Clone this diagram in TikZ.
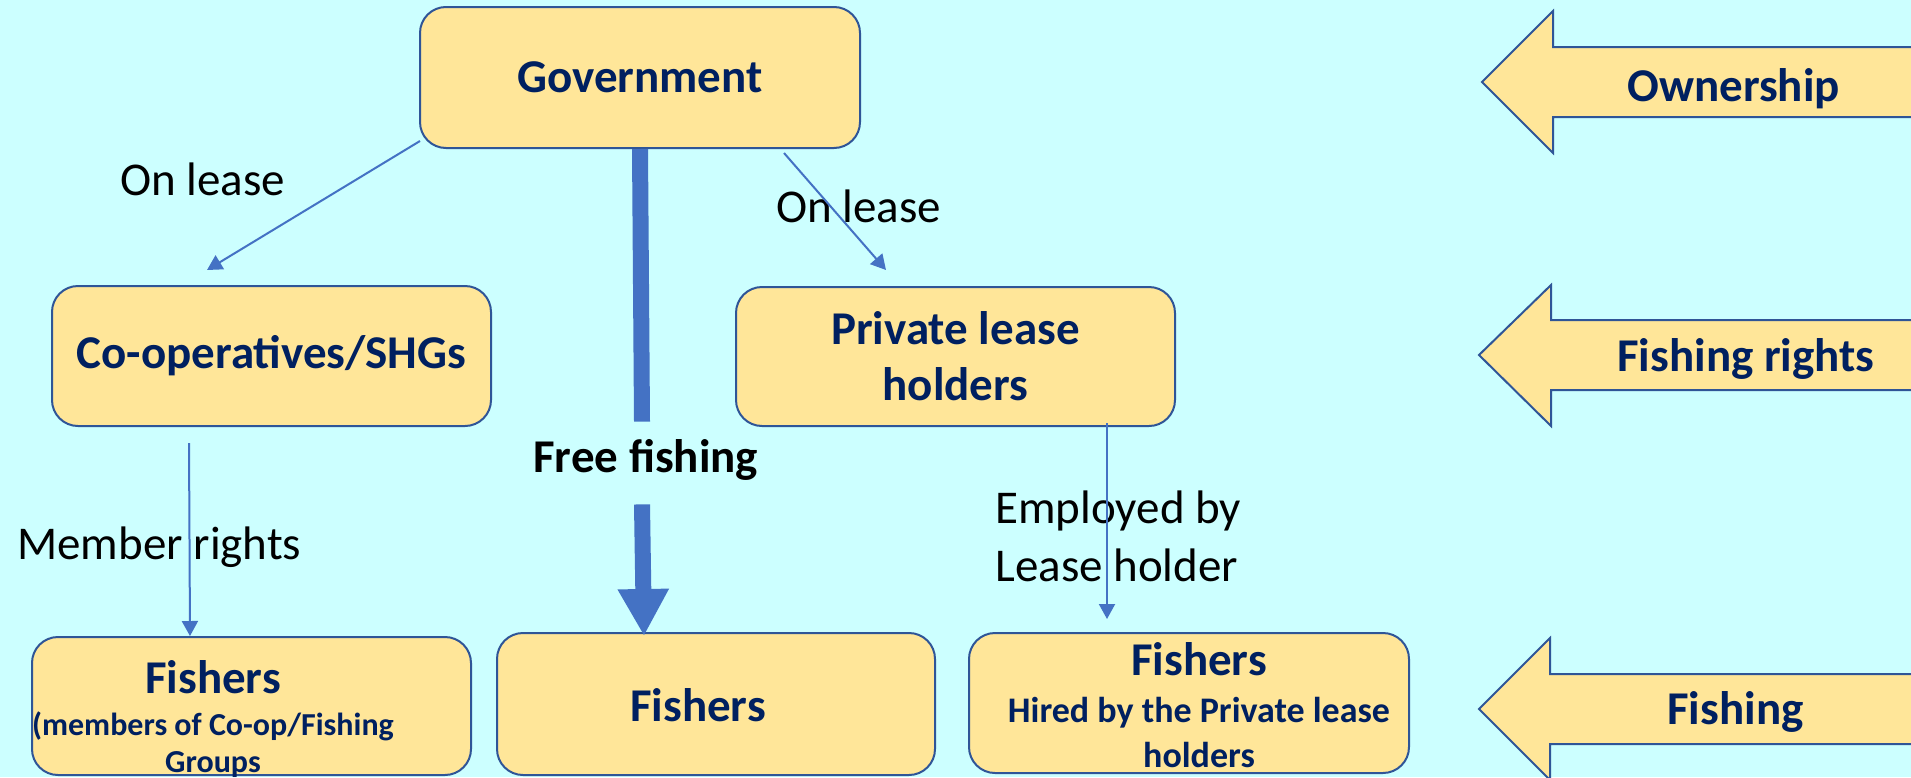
\documentclass[tikz,border=0pt]{standalone}
\usepackage{fontspec}
\setmainfont{Carlito}
\usetikzlibrary{arrows.meta}

\definecolor{bgcyan}{HTML}{CCFFFF}
\definecolor{boxfill}{HTML}{FFE699}
\definecolor{boxline}{HTML}{2F5597}
\definecolor{navy}{HTML}{002060}
\definecolor{flowblue}{HTML}{4472C4}

\tikzset{
  box/.style={draw=boxline, fill=boxfill, line width=1pt, rounded corners=13pt,
    text=navy, font=\bfseries\fontsize{23.5}{28}\selectfont, align=center, inner sep=0pt},
  boxtext/.style={text=navy, font=\bfseries\fontsize{23.5}{28}\selectfont, align=center, inner sep=0pt},
  lbl/.style={text=black, font=\fontsize{23.5}{29}\selectfont, align=left, inner sep=0pt},
  thin/.style={draw=flowblue, line width=1pt, -{Triangle[length=7.5pt,width=8pt]}},
  thickline/.style={draw=flowblue, line width=8pt},
  blockarrow/.style={draw=boxline, fill=boxfill, line width=1pt},
}

\begin{document}
\begin{tikzpicture}[x=0.5pt, y=-0.5pt]
  \useasboundingbox (0,0) rectangle (1911,777);
  \fill[bgcyan] (0,0) rectangle (1911,777);
  \clip (0,0) rectangle (1911,777);

  % boxes
  \node[box, minimum width=220pt, minimum height=70.5pt] (gov) at (640,77.5) {Government};
  \node[box, minimum width=219.5pt, minimum height=70pt] (coop) at (271.5,356) {Co-operatives/SHGs};
  \node[box, minimum width=219.5pt, minimum height=69.5pt] (priv) at (955.5,356.5) {Private lease\\holders};
  \node[box, minimum width=219.5pt, minimum height=69pt] (fishL) at (251.5,706) {};
  \node[box, minimum width=219pt, minimum height=71pt] (fishM) at (716,704) {};
  \node[box, minimum width=220pt, minimum height=70pt] (fishR) at (1189,703) {};

  % texts of the bottom boxes (anchored on the baseline of their last line)
  \node[boxtext, font=\bfseries\fontsize{23.5}{21}\selectfont, anchor=base] (fishLt) at (213,772)
    {Fishers\\{\fontsize{16}{16}\selectfont (members of Co-op/Fishing}\\[-2.5pt]{\fontsize{16}{16}\selectfont Groups}};
  \node[boxtext, anchor=base] (fishMt) at (698,721) {Fishers};
  \node[boxtext, font=\bfseries\fontsize{23.5}{23.5}\selectfont, anchor=base] (fishRt) at (1199,767)
    {Fishers\\{\fontsize{18}{18}\selectfont Hired by the Private lease}\\[-1pt]{\fontsize{18}{18}\selectfont holders}};

  % connector labels
  \node[lbl, anchor=base west] (lease1) at (120,195) {On lease};
  \node[lbl, anchor=base west] (lease2) at (776,222) {On lease};
  \node[lbl, anchor=base west] (member) at (17,559) {Member rights};
  \node[lbl, anchor=base west] (employ) at (995,581) {Employed by\\Lease holder};
  \node[inner sep=0pt, anchor=base west, text height=25pt, text depth=16pt,
        font=\bfseries\fontsize{23.5}{28}\selectfont] (ff) at (533,472) {Free fishing};

  % thin connectors
  \draw[thin] ([shift={(1,-8)}]gov.south west) -- ([shift={(-64.5,-15)}]coop.north);
  \draw[thin] ([shift={(144,4)}]gov.south) -- ([shift={(-69.5,-16)}]priv.north);
  \draw[thin] ([shift={(-82.5,16)}]coop.south) -- ([shift={(-61.5,0)}]fishL.north);
  \draw[thin] ([shift={(151.5,-4)}]priv.south) -- ([shift={(-82,-13)}]fishR.north);

  % free fishing flow
  \draw[thickline] (gov.south) -- ([xshift=1pt]gov.south |- ff.north);
  \draw[thickline, -{Triangle[length=23.5pt,width=24pt]}]
    ([xshift=1pt]gov.south |- ff.south) -- ([shift={(-72,4)}]fishM.north);

  % level arrows on the right
  \draw[blockarrow] (1482,82) -- (1553,11) -- (1553,47) -- (1930,47) -- (1930,117)
    -- (1553,117) -- (1553,153) -- cycle;
  \draw[blockarrow] (1479,355) -- (1551,285) -- (1551,320) -- (1930,320) -- (1930,390)
    -- (1551,390) -- (1551,426) -- cycle;
  \draw[blockarrow] (1479,709) -- (1550,638) -- (1550,674) -- (1930,674) -- (1930,744)
    -- (1550,744) -- (1550,780) -- cycle;
  \node[boxtext, anchor=base west] (own) at (1627,101) {Ownership};
  \node[boxtext, anchor=base west] (rights) at (1617,371) {Fishing rights};
  \node[boxtext, anchor=base west] (fishing) at (1667,724) {Fishing};
\end{tikzpicture}
\end{document}
